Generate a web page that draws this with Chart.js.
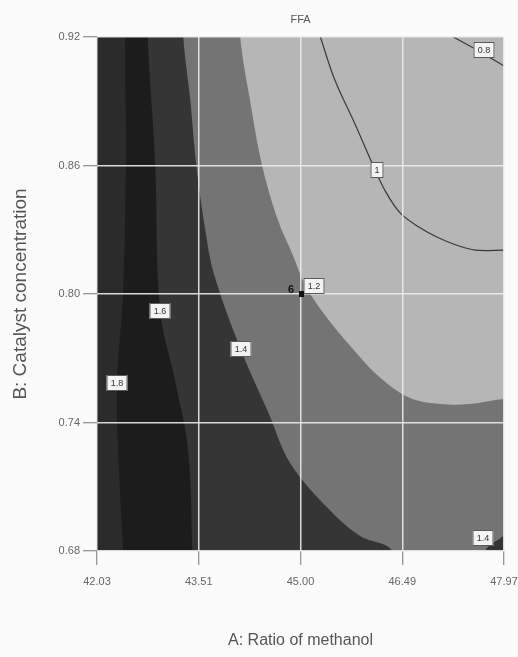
<!DOCTYPE html>
<html>
<head>
<meta charset="utf-8">
<script src="https://cdn.jsdelivr.net/npm/chart.js@4.4.1/dist/chart.umd.min.js"></script>
<style>
  html, body { margin: 0; padding: 0; background: #fbfbfb; overflow: hidden; }
  #wrap { position: relative; width: 518px; height: 657px; }
</style>
</head>
<body>
<div id="wrap"><canvas id="ffa-chart"></canvas></div>
<script>
/* ── Data ─────────────────────────────────────────────────────────── */
const X_TICKS = [42.03, 43.515, 45.00, 46.485, 47.97];
const X_TICK_LABELS = ["42.03", "43.51", "45.00", "46.49", "47.97"];
const Y_TICKS = [0.68, 0.74, 0.80, 0.86, 0.92];
const Y_TICK_LABELS = ["0.68", "0.74", "0.80", "0.86", "0.92"];

// contour curves, [A, B]
const FFA_18 = [[42.44, 0.92], [42.45, 0.86], [42.41, 0.80], [42.32, 0.758], [42.35, 0.718], [42.41, 0.68]];
const FFA_16 = [[42.77, 0.92], [42.88, 0.86], [42.95, 0.7925], [43.18, 0.758], [43.36, 0.727], [43.42, 0.68]];
const FFA_14 = [[43.29, 0.92], [43.39, 0.891], [43.48, 0.86], [43.61, 0.83], [43.74, 0.809], [44.13, 0.774],
                [44.54, 0.744], [44.85, 0.721], [45.43, 0.699], [45.87, 0.687], [46.34, 0.68]];
const FFA_14_CORNER = [[47.70, 0.68], [47.80, 0.6835], [47.90, 0.6855], [47.97, 0.687]];
const FFA_12 = [[44.12, 0.92], [44.26, 0.891], [44.44, 0.86], [44.67, 0.8345], [44.89, 0.818], [45.07, 0.804],
                [45.36, 0.790], [45.72, 0.776], [46.16, 0.761], [46.60, 0.7514], [47.04, 0.7486], [47.47, 0.7486], [47.97, 0.751]];
const FFA_10 = [[45.29, 0.92], [45.50, 0.90], [45.80, 0.879], [46.06, 0.860], [46.23, 0.8485], [46.45, 0.838],
                [46.74, 0.831], [46.99, 0.8266], [47.26, 0.823], [47.55, 0.8205], [47.97, 0.8205]];
const FFA_08 = [[47.23, 0.92], [47.60, 0.9135], [47.97, 0.9065]];

const LEVEL_LABELS = ["0.8", "1", "1.2", "1.4", "1.6", "1.8", "1.4"];
const LEVEL_LABEL_A = [47.68, 46.12, 45.20, 44.13, 42.95, 42.32, 47.66];
const LEVEL_LABEL_B = [0.9139, 0.8579, 0.8037, 0.7743, 0.792, 0.7584, 0.686];

const CENTER_POINT = [45.00, 0.80];
const CENTER_RUNS = "6";

/* ── Helpers ──────────────────────────────────────────────────────── */
const X_MIN = X_TICKS[0], X_MAX = X_TICKS[X_TICKS.length - 1];
const Y_MIN = Y_TICKS[0], Y_MAX = Y_TICKS[Y_TICKS.length - 1];
const OUT = 0.5, OUT_Y = 0.02;   // closing corners sit outside the plot, clipped away
const FONT = "'Liberation Sans', Arial, sans-serif";

function pts(list) { return list.map(function (p) { return { x: p[0], y: p[1] }; }); }

// region left of a curve that runs from the top edge down to the bottom edge
function leftOfTopBottom(curve) {
  const first = curve[0], last = curve[curve.length - 1];
  return [[first[0], Y_MAX + OUT_Y]].concat(curve, [
    [last[0], Y_MIN - OUT_Y], [X_MIN - OUT, Y_MIN - OUT_Y], [X_MIN - OUT, Y_MAX + OUT_Y]
  ]);
}
// region below/left of a curve that runs from the top edge to the right edge
function leftOfTopRight(curve) {
  const first = curve[0], last = curve[curve.length - 1];
  return [[first[0], Y_MAX + OUT_Y]].concat(curve, [
    [X_MAX + OUT, last[1]], [X_MAX + OUT, Y_MIN - OUT_Y],
    [X_MIN - OUT, Y_MIN - OUT_Y], [X_MIN - OUT, Y_MAX + OUT_Y]
  ]);
}
function cornerBottomRight(curve) {
  const first = curve[0], last = curve[curve.length - 1];
  return [[X_MAX + OUT, Y_MIN - OUT_Y], [first[0], Y_MIN - OUT_Y]].concat(curve, [[X_MAX + OUT, last[1]]]);
}
const WHOLE = [[X_MAX + OUT, Y_MIN - OUT_Y], [X_MIN - OUT, Y_MIN - OUT_Y], [X_MIN - OUT, Y_MAX + OUT_Y], [X_MAX + OUT, Y_MAX + OUT_Y]];

function region(data, color, order) {
  return {
    data: pts(data), showLine: true, fill: "shape", backgroundColor: color,
    borderWidth: 0, borderColor: "transparent", pointRadius: 0, tension: 0.35, order: order
  };
}
function contourLine(data, order) {
  return {
    data: pts(data), showLine: true, fill: false, borderColor: "#3a3a3a",
    borderWidth: 1.2, pointRadius: 0, tension: 0.35, order: order
  };
}
function noSidePadding(s) { s.paddingLeft = 0; s.paddingRight = 0; }

/* ── Labels on the contours + design centre point (drawn over grid) ─ */
const contourLabels = {
  id: "contourLabels",
  afterDraw: function (chart) {
    const ctx = chart.ctx, xs = chart.scales.x, ys = chart.scales.y;
    ctx.save();
    ctx.font = "9px " + FONT;
    ctx.textAlign = "center";
    ctx.textBaseline = "middle";
    LEVEL_LABELS.forEach(function (t, i) {
      const px = Math.round(xs.getPixelForValue(LEVEL_LABEL_A[i]));
      const py = Math.round(ys.getPixelForValue(LEVEL_LABEL_B[i]));
      const w = Math.round(ctx.measureText(t).width) + 8, h = 16;
      ctx.fillStyle = "#f3f3f3";
      ctx.fillRect(px - w / 2, py - h / 2, w, h);
      ctx.strokeStyle = "#5a5a5a";
      ctx.lineWidth = 1;
      ctx.strokeRect(px - w / 2 + 0.5, py - h / 2 + 0.5, w - 1, h - 1);
      ctx.fillStyle = "#333";
      ctx.fillText(t, px, py + 0.5);
    });
    const cx = Math.round(xs.getPixelForValue(CENTER_POINT[0]));
    const cy = Math.round(ys.getPixelForValue(CENTER_POINT[1]));
    ctx.fillStyle = "#111";
    ctx.fillRect(cx - 2, cy - 3, 5, 6);
    ctx.font = "bold 11px " + FONT;
    ctx.fillText(CENTER_RUNS, cx - 10, cy - 4);
    ctx.restore();
  }
};

/* ── Chart ────────────────────────────────────────────────────────── */
const tickFont = { family: FONT, size: 11 };
const gridOpts = { z: 1, color: "rgba(236,236,236,0.9)", lineWidth: 1.5, tickColor: "#777", tickLength: 14, tickWidth: 1 };

new Chart(document.getElementById("ffa-chart").getContext("2d"), {
  type: "scatter",
  data: {
    datasets: [
      contourLine(FFA_08, 1),
      contourLine(FFA_10, 2),
      region(leftOfTopBottom(FFA_18), "#2b2b2b", 3),
      region(leftOfTopBottom(FFA_16), "#1c1c1c", 4),
      region(cornerBottomRight(FFA_14_CORNER), "#333333", 5),
      region(leftOfTopBottom(FFA_14), "#353535", 6),
      region(leftOfTopRight(FFA_12), "#747474", 7),
      region(WHOLE, "#b6b6b6", 8)
    ]
  },
  options: {
    responsive: true,
    maintainAspectRatio: false,
    animation: false,
    events: [],
    layout: { padding: { left: 0, right: 14, top: 0, bottom: 0 } },
    plugins: {
      legend: { display: false },
      tooltip: { enabled: false }
    },
    scales: {
      top: {
        type: "linear", position: "top", min: X_MIN, max: X_MAX,
        afterFit: function (s) { s.height = 37; noSidePadding(s); },
        ticks: { display: false },
        grid: { display: false, drawTicks: false },
        border: { display: false },
        title: {
          display: true, text: "FFA", color: "#555",
          font: { family: FONT, size: 11 },
          padding: { top: 13, bottom: 0 }
        }
      },
      x: {
        type: "linear", position: "bottom", min: X_MIN, max: X_MAX,
        afterFit: function (s) { s.height = 106; noSidePadding(s); },
        afterBuildTicks: function (s) { s.ticks = X_TICKS.map(function (v) { return { value: v }; }); },
        ticks: {
          color: "#666", font: tickFont, padding: 10, maxRotation: 0, autoSkip: false,
          callback: function (v, i) { return X_TICK_LABELS[i]; }
        },
        grid: gridOpts,
        border: { display: false },
        title: {
          display: true, text: "A: Ratio of methanol", color: "#555",
          font: { family: FONT, size: 16 },
          padding: { top: 0, bottom: 7 }
        }
      },
      y: {
        type: "linear", min: Y_MIN, max: Y_MAX,
        afterFit: function (s) { s.width = 97; },
        afterBuildTicks: function (s) { s.ticks = Y_TICKS.map(function (v) { return { value: v }; }); },
        ticks: {
          color: "#666", font: tickFont, padding: 3, autoSkip: false,
          callback: function (v, i) { return Y_TICK_LABELS[i]; }
        },
        grid: gridOpts,
        border: { display: false },
        title: {
          display: true, text: "B: Catalyst concentration", color: "#555",
          font: { family: FONT, size: 19 },
          padding: { top: 9, bottom: 0 }
        }
      }
    }
  },
  plugins: [contourLabels]
});
</script>
</body>
</html>
